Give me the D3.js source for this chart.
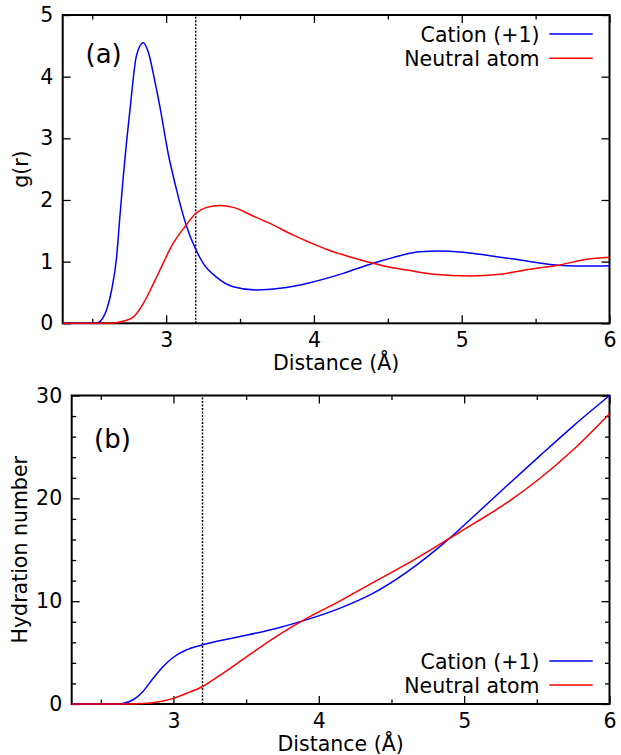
<!DOCTYPE html>
<html>
<head>
<meta charset="utf-8">
<script src="https://cdn.jsdelivr.net/npm/d3@7"></script>
<style>
  body { margin: 0; background: #fff; }
  svg { display: block; }
  text { font-family: "DejaVu Sans", sans-serif; fill: #000; }
</style>
</head>
<body>
<svg id="chart" width="621" height="755"></svg>
<script>
// ---------- data ----------
const seriesNames = ["Cation (+1)", "Neutral atom"];
const seriesColors = ["#0000ff", "#ff0000"];
const cutoff = 3.2;

// panel (a): g(r)
const gCationX = [2.3, 2.5, 2.53, 2.575, 2.6, 2.631, 2.665, 2.687, 2.71, 2.755, 2.80, 2.845, 2.879, 2.924, 2.958, 3.014, 3.071, 3.105, 3.139, 3.202, 3.251, 3.342, 3.454, 3.612, 3.77, 3.973, 4.198, 4.40, 4.581, 4.716, 4.852, 5.01, 5.19, 5.393, 5.573, 5.709, 5.844, 6.0];
const gCationY = [0, 0, 0.005, 0.10, 0.24, 0.54, 1.08, 1.73, 2.38, 3.46, 4.35, 4.55, 4.40, 3.92, 3.51, 2.75, 2.16, 1.84, 1.567, 1.19, 0.973, 0.746, 0.594, 0.54, 0.567, 0.659, 0.81, 0.973, 1.097, 1.161, 1.173, 1.151, 1.097, 1.027, 0.962, 0.934, 0.929, 0.934];
const gNeutralX = [2.3, 2.6, 2.665, 2.72, 2.777, 2.845, 2.913, 2.958, 3.048, 3.127, 3.202, 3.274, 3.364, 3.454, 3.589, 3.702, 3.86, 3.973, 4.13, 4.265, 4.40, 4.514, 4.627, 4.807, 5.055, 5.258, 5.46, 5.663, 5.844, 6.0];
const gNeutralY = [0, 0, 0.01, 0.04, 0.10, 0.32, 0.64, 0.864, 1.30, 1.567, 1.784, 1.88, 1.91, 1.88, 1.74, 1.62, 1.43, 1.31, 1.16, 1.064, 0.973, 0.908, 0.864, 0.795, 0.767, 0.795, 0.876, 0.946, 1.038, 1.07];

// panel (b): hydration number
const nCationX = [2.3, 2.62, 2.651, 2.72, 2.789, 2.858, 2.926, 2.995, 3.087, 3.197, 3.316, 3.5, 3.706, 3.913, 4.143, 4.372, 4.603, 4.763, 4.901, 5.085, 5.292, 5.522, 5.752, 6.0];
const nCationY = [0, 0, 0.05, 0.39, 1.2, 2.45, 3.6, 4.5, 5.25, 5.74, 6.15, 6.68, 7.35, 8.18, 9.3, 10.75, 12.8, 14.5, 16.13, 18.5, 21.2, 24.15, 27.05, 30.0];
const nNeutralX = [2.3, 2.65, 2.75, 2.858, 3.0, 3.11, 3.197, 3.316, 3.5, 3.706, 3.913, 4.143, 4.372, 4.603, 4.901, 5.085, 5.292, 5.522, 5.752, 6.0];
const nNeutralY = [0, 0, 0.03, 0.13, 0.55, 1.15, 1.68, 2.75, 4.55, 6.55, 8.3, 10.0, 11.8, 13.6, 16.13, 17.7, 19.55, 21.95, 24.75, 28.24];

// ticks
const xMajorTicks = [3, 4, 5, 6];
const xMinorTicks = [2.5, 3.5, 4.5, 5.5];
const gTicks = [0, 1, 2, 3, 4, 5];
const nMajorTicks = [0, 10, 20, 30];
const nMinorTicks = [2, 4, 6, 8, 12, 14, 16, 18, 22, 24, 26, 28];

// ---------- drawing ----------
const svg = d3.select("#chart");
const FS = 20.5;

function panel(cfg) {
  const x = d3.scaleLinear().domain([2.3, 6]).range([cfg.left, cfg.right]);
  const y = d3.scaleLinear().domain(cfg.yDomain).range([cfg.bottom, cfg.top]);
  const g = svg.append("g");

  function styleAxis(sel) {
    sel.select(".domain").remove();
    sel.selectAll(".tick line").attr("stroke", "#000").attr("stroke-width", 1.3);
    sel.selectAll(".tick text").style("font-size", FS + "px").style("font-family", "DejaVu Sans").attr("fill", "#000");
  }

  // bottom axis (labels)
  g.append("g").attr("transform", `translate(0,${cfg.bottom})`)
    .call(d3.axisBottom(x).tickValues(xMajorTicks).tickSize(-8).tickPadding(9.4).tickFormat(d3.format("d")))
    .call(styleAxis);
  g.append("g").attr("transform", `translate(0,${cfg.bottom})`)
    .call(d3.axisBottom(x).tickValues(xMinorTicks).tickSize(-4.5).tickFormat(""))
    .call(styleAxis);
  // top mirrored
  g.append("g").attr("transform", `translate(0,${cfg.top})`)
    .call(d3.axisTop(x).tickValues(xMajorTicks).tickSize(-8).tickFormat(""))
    .call(styleAxis);
  g.append("g").attr("transform", `translate(0,${cfg.top})`)
    .call(d3.axisTop(x).tickValues(xMinorTicks).tickSize(-4.5).tickFormat(""))
    .call(styleAxis);
  // left axis
  g.append("g").attr("transform", `translate(${cfg.left},0)`)
    .call(d3.axisLeft(y).tickValues(cfg.yMajor).tickSize(-8).tickPadding(9.5).tickFormat(d3.format("d")))
    .call(styleAxis);
  // right mirrored
  g.append("g").attr("transform", `translate(${cfg.right},0)`)
    .call(d3.axisRight(y).tickValues(cfg.yMajor).tickSize(-8).tickFormat(""))
    .call(styleAxis);
  if (cfg.yMinor.length) {
    g.append("g").attr("transform", `translate(${cfg.left},0)`)
      .call(d3.axisLeft(y).tickValues(cfg.yMinor).tickSize(-4.5).tickFormat(""))
      .call(styleAxis);
    g.append("g").attr("transform", `translate(${cfg.right},0)`)
      .call(d3.axisRight(y).tickValues(cfg.yMinor).tickSize(-4.5).tickFormat(""))
      .call(styleAxis);
  }

  // frame
  g.append("rect")
    .attr("x", cfg.left).attr("y", cfg.top)
    .attr("width", cfg.right - cfg.left).attr("height", cfg.bottom - cfg.top)
    .attr("fill", "none").attr("stroke", "#000").attr("stroke-width", 2);

  // cutoff dotted line
  g.append("line")
    .attr("x1", x(cutoff)).attr("x2", x(cutoff))
    .attr("y1", y(cfg.yDomain[0])).attr("y2", y(cfg.yDomain[1]))
    .attr("stroke", "#000").attr("stroke-width", 1.5).attr("stroke-dasharray", "2,1.5");

  // curves
  const line = d3.line().x(d => x(d[0])).y(d => y(d[1])).curve(d3.curveMonotoneX);
  cfg.series.forEach((s, i) => {
    const pts = s.xs.map((v, k) => [v, s.ys[k]]);
    g.append("path").datum(pts).attr("d", line)
      .attr("fill", "none").attr("stroke", seriesColors[i]).attr("stroke-width", 1.5)
      .attr("stroke-linejoin", "round");
  });

  // legend
  cfg.legendY.forEach((ly, i) => {
    g.append("text").attr("x", 539.5).attr("y", ly).attr("dy", "0.37em")
      .attr("text-anchor", "end").style("font-size", FS + "px").text(seriesNames[i]);
    g.append("line").attr("x1", 549.3).attr("x2", 592.7).attr("y1", ly).attr("y2", ly)
      .attr("stroke", seriesColors[i]).attr("stroke-width", 1.5);
  });

  // panel label
  g.append("text").attr("x", cfg.labelX).attr("y", cfg.labelY)
    .style("font-size", "26px").text(cfg.label);

  // axis titles
  g.append("text").attr("x", (cfg.left + cfg.right) / 2).attr("y", cfg.bottom + 47)
    .attr("text-anchor", "middle").style("font-size", FS + "px").text("Distance (Å)");
  g.append("text")
    .attr("transform", `translate(${cfg.yTitleX},${(cfg.top + cfg.bottom) / 2}) rotate(-90)`)
    .attr("text-anchor", "middle").style("font-size", FS + "px").text(cfg.yTitle);
}

panel({
  left: 62.7, right: 609.5, top: 15, bottom: 323.3,
  yDomain: [0, 5], yMajor: gTicks, yMinor: [],
  series: [{xs: gCationX, ys: gCationY}, {xs: gNeutralX, ys: gNeutralY}],
  legendY: [34, 58.3],
  label: "(a)", labelX: 85.5, labelY: 62.5,
  yTitle: "g(r)", yTitleX: 27.5
});

panel({
  left: 71.7, right: 609.5, top: 395.5, bottom: 704,
  yDomain: [0, 30], yMajor: nMajorTicks, yMinor: nMinorTicks,
  series: [{xs: nCationX, ys: nCationY}, {xs: nNeutralX, ys: nNeutralY}],
  legendY: [661, 685],
  label: "(b)", labelX: 94, labelY: 448.3,
  yTitle: "Hydration number", yTitleX: 26.5
});
</script>
</body>
</html>
